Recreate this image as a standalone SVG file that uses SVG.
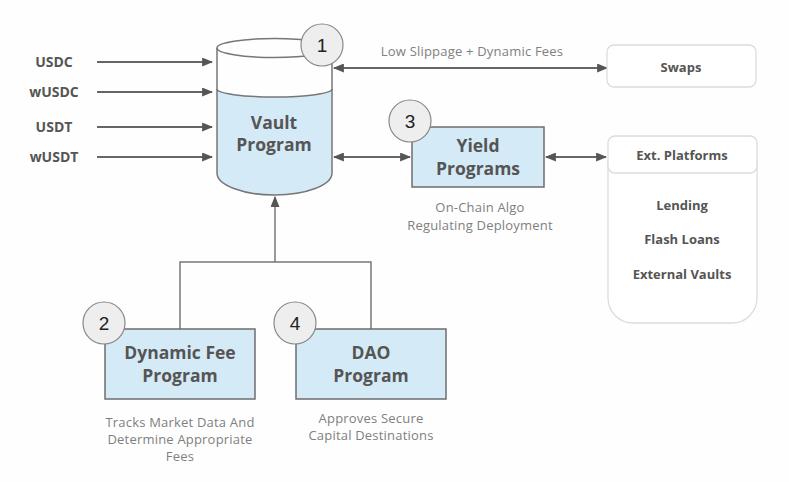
<svg xmlns="http://www.w3.org/2000/svg" width="789" height="482" viewBox="0 0 789 482">
<defs>
<marker id="ah" viewBox="0 0 10 10" refX="9" refY="5" markerWidth="11" markerHeight="9" markerUnits="userSpaceOnUse" orient="auto-start-reverse" preserveAspectRatio="none">
<path d="M0,0 L10,5 L0,10 z" fill="#555"/>
</marker>
<style>
.ln{fill:none;stroke:#666;stroke-width:2}
.tl{fill:none;stroke:#777;stroke-width:1.5}
.box{fill:#d5eaf7;stroke:#6d6d6d;stroke-width:1.5}
.wbox{fill:#fff;stroke:#dcdcdc;stroke-width:1.3}
.num{fill:#eeeeee;stroke:#888;stroke-width:1.2}
.nt{font-family:"Liberation Sans",Arial,sans-serif;font-size:19px;fill:#222;text-anchor:middle}
.b{font-family:"Open Sans","DejaVu Sans",sans-serif;font-weight:700;fill:#555;text-anchor:middle}
.c{font-family:"Open Sans","DejaVu Sans",sans-serif;font-size:13px;letter-spacing:0.2px;fill:#808080;text-anchor:middle}
</style>
</defs>
<rect width="789" height="482" fill="#fefefe"/>

<g id="connectors">
<line class="ln" x1="97" y1="62" x2="212" y2="62" marker-end="url(#ah)"/>
<line class="ln" x1="97" y1="92" x2="212" y2="92" marker-end="url(#ah)"/>
<line class="ln" x1="97" y1="127" x2="212" y2="127" marker-end="url(#ah)"/>
<line class="ln" x1="97" y1="157" x2="212" y2="157" marker-end="url(#ah)"/>
<line class="ln" x1="334" y1="68" x2="607" y2="68" marker-start="url(#ah)" marker-end="url(#ah)"/>
<line class="ln" x1="334" y1="157" x2="410" y2="157" marker-start="url(#ah)" marker-end="url(#ah)"/>
<line class="ln" x1="546" y1="157" x2="606" y2="157" marker-start="url(#ah)" marker-end="url(#ah)"/>
<path class="tl" d="M180,329 V262 H371 V329"/>
<line class="tl" x1="275" y1="262" x2="275" y2="197" marker-end="url(#ah)"/>
<text class="c" x="472" y="56">Low Slippage + Dynamic Fees</text>
</g>

<g id="inputs">
<text class="b" font-size="14" x="54" y="67">USDC</text>
<text class="b" font-size="14" x="54" y="97">wUSDC</text>
<text class="b" font-size="14" x="54" y="132">USDT</text>
<text class="b" font-size="14" x="54" y="162">wUSDT</text>
</g>

<g id="vault">
<path d="M217,89 A57.5,8 0 0 0 332,89 V173 A57.5,22 0 0 1 217,173 Z" fill="#d5eaf7"/>
<path d="M217,48 V173 A57.5,22 0 0 0 332,173 V48" class="tl"/>
<ellipse cx="274.5" cy="48" rx="57.5" ry="9.5" fill="#fff" class="tl"/>
<path d="M217,89 A57.5,8 0 0 0 332,89" class="tl"/>
<text class="b" font-size="17.5" x="274" y="129">Vault</text>
<text class="b" font-size="17.5" x="274" y="151">Program</text>
<circle class="num" cx="322" cy="45" r="21"/>
<text class="nt" x="322" y="52">1</text>
</g>

<g id="swaps">
<rect class="wbox" x="607" y="45" width="149" height="42" rx="7"/>
<text class="b" font-size="13" x="681" y="72">Swaps</text>
</g>

<g id="yield">
<rect class="box" x="412" y="127" width="132" height="60"/>
<text class="b" font-size="17.5" x="478" y="152">Yield</text>
<text class="b" font-size="17.5" x="478" y="175">Programs</text>
<circle class="num" cx="410" cy="121" r="21"/>
<text class="nt" x="410" y="128">3</text>
<text class="c" x="480" y="212">On-Chain Algo</text>
<text class="c" x="480" y="230">Regulating Deployment</text>
</g>

<g id="ext">
<path class="wbox" d="M608,160 V298 A25,25 0 0 0 633,323 H732 A25,25 0 0 0 757,298 V160"/>
<rect class="wbox" x="608" y="136" width="149" height="37" rx="7"/>
<text class="b" font-size="13" x="682" y="160">Ext. Platforms</text>
<text class="b" font-size="13" x="682" y="210">Lending</text>
<text class="b" font-size="13" x="682" y="244">Flash Loans</text>
<text class="b" font-size="13" x="682" y="279">External Vaults</text>
</g>

<g id="dynamic-fee">
<rect class="box" x="105" y="329" width="150" height="70"/>
<text class="b" font-size="17.5" x="180" y="359">Dynamic Fee</text>
<text class="b" font-size="17.5" x="180" y="382">Program</text>
<circle class="num" cx="104" cy="323" r="21"/>
<text class="nt" x="104" y="330">2</text>
<text class="c" x="180" y="427">Tracks Market Data And</text>
<text class="c" x="180" y="444">Determine Appropriate</text>
<text class="c" x="180" y="461">Fees</text>
</g>

<g id="dao">
<rect class="box" x="296" y="329" width="150" height="70"/>
<text class="b" font-size="17.5" x="371" y="359">DAO</text>
<text class="b" font-size="17.5" x="371" y="382">Program</text>
<circle class="num" cx="295" cy="323" r="21"/>
<text class="nt" x="295" y="330">4</text>
<text class="c" x="371" y="423">Approves Secure</text>
<text class="c" x="371" y="440">Capital Destinations</text>
</g>
</svg>
